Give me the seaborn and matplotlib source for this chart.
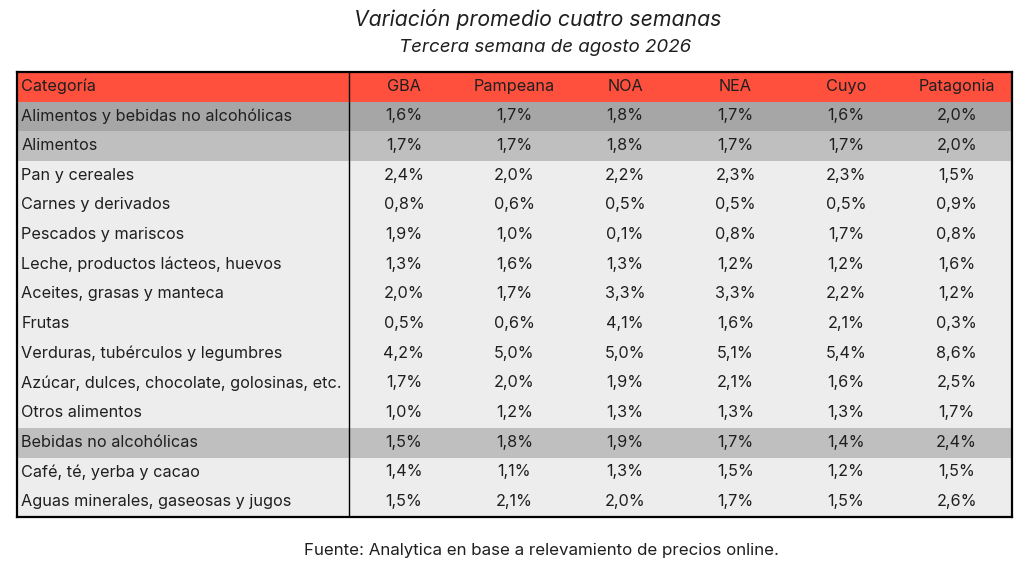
import numpy as np
import matplotlib
matplotlib.use("Agg")
import matplotlib.pyplot as plt
from matplotlib.colors import ListedColormap
import seaborn as sns

regions = ["GBA", "Pampeana", "NOA", "NEA", "Cuyo", "Patagonia"]

categories = [
    "Alimentos y bebidas no alcohólicas",
    "Alimentos",
    "Pan y cereales",
    "Carnes y derivados",
    "Pescados y mariscos",
    "Leche, productos lácteos, huevos",
    "Aceites, grasas y manteca",
    "Frutas",
    "Verduras, tubérculos y legumbres",
    "Azúcar, dulces, chocolate, golosinas, etc.",
    "Otros alimentos",
    "Bebidas no alcohólicas",
    "Café, té, yerba y cacao",
    "Aguas minerales, gaseosas y jugos",
]

# nivel de cada fila: 0 = total, 1 = subtotal, 2 = detalle
levels = [0, 1, 2, 2, 2, 2, 2, 2, 2, 2, 2, 1, 2, 2]

gba = [1.6, 1.7, 2.4, 0.8, 1.9, 1.3, 2.0, 0.5, 4.2, 1.7, 1.0, 1.5, 1.4, 1.5]
pampeana = [1.7, 1.7, 2.0, 0.6, 1.0, 1.6, 1.7, 0.6, 5.0, 2.0, 1.2, 1.8, 1.1, 2.1]
noa = [1.8, 1.8, 2.2, 0.5, 0.1, 1.3, 3.3, 4.1, 5.0, 1.9, 1.3, 1.9, 1.3, 2.0]
nea = [1.7, 1.7, 2.3, 0.5, 0.8, 1.2, 3.3, 1.6, 5.1, 2.1, 1.3, 1.7, 1.5, 1.7]
cuyo = [1.6, 1.7, 2.3, 0.5, 1.7, 1.2, 2.2, 2.1, 5.4, 1.6, 1.3, 1.4, 1.2, 1.5]
patagonia = [2.0, 2.0, 1.5, 0.9, 0.8, 1.6, 1.2, 0.3, 8.6, 2.5, 1.7, 2.4, 1.5, 2.6]

values = np.array([gba, pampeana, noa, nea, cuyo, patagonia]).T

RED = "#FF4F3D"
TEXT = "#1f1f1f"
FONT = "Inter"

# la columna de categoría ocupa 3 unidades, cada región 1
CAT_W = 3
n_cols = CAT_W + len(regions)
bg = np.zeros((len(categories) + 1, n_cols))
bg[0, :] = 3
for i, lv in enumerate(levels):
    bg[i + 1, :] = lv

cmap = ListedColormap(["#A6A6A6", "#BFBFBF", "#EDEDED", RED])

sns.set_theme(style="white")
plt.rcParams["font.family"] = [FONT, "DejaVu Sans"]

fig = plt.figure(figsize=(10.2, 5.73), dpi=100)
ax = fig.add_axes([17 / 1020, 1 - 517 / 573, 995 / 1020, 445 / 573])
sns.heatmap(bg, ax=ax, cmap=cmap, vmin=-0.5, vmax=3.5, cbar=False,
            linewidths=0, xticklabels=False, yticklabels=False)

fs = 11.7
dy = -0.02
ax.text(0.04, 0.5 + dy, "Categoría", ha="left", va="center", fontsize=fs, color=TEXT)
for j, reg in enumerate(regions):
    ax.text(CAT_W + j + 0.5, 0.5 + dy, reg, ha="center", va="center", fontsize=fs, color=TEXT)

for i, cat in enumerate(categories):
    y = i + 1.5 + dy
    ax.text(0.04, y, cat, ha="left", va="center", fontsize=fs, color=TEXT)
    for j in range(len(regions)):
        lbl = f"{values[i, j]:.1f}%".replace(".", ",")
        ax.text(CAT_W + j + 0.5, y, lbl, ha="center", va="center", fontsize=fs, color=TEXT)

ax.axvline(CAT_W, color="black", lw=1.0)
for side in ax.spines.values():
    side.set_visible(True)
    side.set_color("black")
    side.set_linewidth(1.6)

fig.text(538 / 1020, 1 - 19 / 573, "Variación promedio cuatro semanas",
         ha="center", va="center", fontsize=15.3, style="italic", color=TEXT)
fig.text(545 / 1020, 1 - 47 / 573, "Tercera semana de agosto 2026",
         ha="center", va="center", fontsize=13.5, style="italic", color=TEXT)
fig.text(542 / 1020, 1 - 551 / 573, "Fuente: Analytica en base a relevamiento de precios online.",
         ha="center", va="center", fontsize=12.2, color=TEXT)

fig.savefig("out.png", dpi=100, facecolor="white")
